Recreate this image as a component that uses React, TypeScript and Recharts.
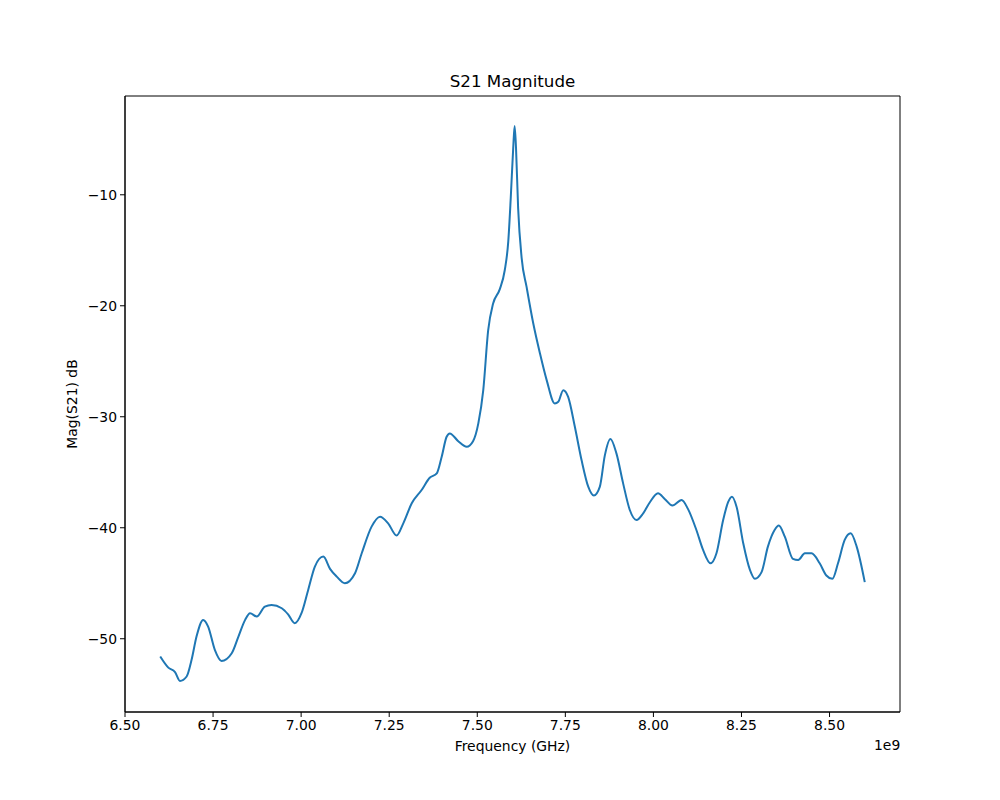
import { Line, LineChart, ReferenceArea, XAxis, YAxis } from "recharts";

// frequency (GHz, shown with a 1e9 offset) and |S21| in dB
const freq = [
  6.6, 6.623, 6.642, 6.656, 6.675, 6.689, 6.703, 6.722, 6.736, 6.755, 6.774, 6.803, 6.822, 6.841, 6.855, 6.874,
  6.897, 6.916, 6.945, 6.963, 6.982, 7.001, 7.02, 7.039, 7.063, 7.082, 7.101, 7.124, 7.153, 7.172, 7.2, 7.224,
  7.247, 7.271, 7.29, 7.314, 7.342, 7.365, 7.385, 7.399, 7.413, 7.422, 7.446, 7.47, 7.488, 7.503, 7.517, 7.531,
  7.545, 7.564, 7.578, 7.588, 7.595, 7.602, 7.606, 7.61, 7.616, 7.626, 7.64, 7.659, 7.678, 7.697, 7.72, 7.73,
  7.744, 7.758, 7.777, 7.796, 7.815, 7.831, 7.848, 7.862, 7.878, 7.895, 7.914, 7.933, 7.952, 7.971, 7.99, 8.013,
  8.032, 8.054, 8.08, 8.098, 8.122, 8.141, 8.162, 8.179, 8.198, 8.212, 8.223, 8.236, 8.255, 8.274, 8.288, 8.307,
  8.325, 8.344, 8.356, 8.373, 8.396, 8.411, 8.43, 8.449, 8.472, 8.491, 8.508, 8.524, 8.543, 8.56, 8.577, 8.6
];
const magDb = [
  -51.6, -52.6, -53.0, -53.8, -53.4, -51.9, -49.8, -48.3, -48.9, -51.0, -52.0, -51.3, -49.8, -48.3, -47.7, -48.0,
  -47.1, -46.95, -47.25, -47.8, -48.6, -47.7, -45.6, -43.5, -42.6, -43.7, -44.4, -45.0, -44.1, -42.3, -39.9, -39.0,
  -39.6, -40.7, -39.6, -37.8, -36.6, -35.5, -35.1, -33.6, -31.8, -31.5, -32.2, -32.7, -32.2, -30.6, -27.6, -22.2,
  -19.8, -18.5, -16.8, -14.2, -10.3, -5.8, -3.8, -5.8, -11.2, -15.7, -18.3, -21.6, -24.3, -26.7, -28.8, -28.65,
  -27.6, -28.2, -30.9, -33.9, -36.3, -37.1, -36.3, -33.5, -32.0, -33.3, -36.0, -38.4, -39.3, -38.7, -37.7, -36.9,
  -37.4, -38.0, -37.5, -38.3, -40.2, -42.0, -43.2, -42.3, -39.3, -37.7, -37.2, -38.1, -41.4, -43.8, -44.6, -44.0,
  -41.7, -40.2, -39.8, -40.8, -42.8, -42.9, -42.3, -42.3, -43.2, -44.3, -44.6, -43.2, -41.1, -40.5, -41.7, -44.9
];
const xTicks = [6.5, 6.75, 7.0, 7.25, 7.5, 7.75, 8.0, 8.25, 8.5];
const yTicks = [-50, -40, -30, -20, -10];

const data = freq.map((f, i) => ({ f, mag: magDb[i] }));

const font = "'DejaVu Sans', sans-serif";
const tickStyle = { fontSize: 13.9, fill: "#000", fontFamily: font };
const minus = (v: number) => (v < 0 ? "\u2212" + Math.abs(v) : String(v));

export default function App() {
  return (
    <div style={{ position: "absolute", left: 0, top: 0, width: 1000, height: 800, background: "#fff", fontFamily: font }}>
      <LineChart width={1000} height={800} data={data} margin={{ top: 96, right: 100, bottom: 58, left: 65 }}>
        <XAxis
          dataKey="f"
          type="number"
          domain={[6.5, 8.7]}
          ticks={xTicks}
          tickFormatter={(v: number) => v.toFixed(2)}
          tick={tickStyle}
          tickSize={5}
          tickMargin={3}
          height={30}
          stroke="#000"
          allowDataOverflow
        />
        <YAxis
          type="number"
          domain={[-56.6, -1.1]}
          ticks={yTicks}
          tickFormatter={minus}
          tick={tickStyle}
          tickSize={5}
          tickMargin={3}
          width={60}
          stroke="#000"
          allowDataOverflow
        />
        <ReferenceArea x1={6.5} x2={8.7} y1={-56.6} y2={-1.1} fill="none" stroke="#000" strokeWidth={1} strokeOpacity={1} />
        <Line dataKey="mag" stroke="#1f77b4" strokeWidth={2} dot={false} type="monotone" isAnimationActive={false} />
      </LineChart>
      <div style={{ position: "absolute", left: 0, width: 1025, top: 71, textAlign: "center", fontSize: 16.7 }}>S21 Magnitude</div>
      <div style={{ position: "absolute", left: 0, width: 1025, top: 738, textAlign: "center", fontSize: 13.9 }}>Frequency (GHz)</div>
      <div style={{ position: "absolute", left: 874, top: 737, fontSize: 13.9 }}>1e9</div>
      <div
        style={{
          position: "absolute",
          left: 72,
          top: 404,
          fontSize: 13.9,
          whiteSpace: "nowrap",
          transform: "translate(-50%, -50%) rotate(-90deg)"
        }}
      >
        Mag(S21) dB
      </div>
    </div>
  );
}
